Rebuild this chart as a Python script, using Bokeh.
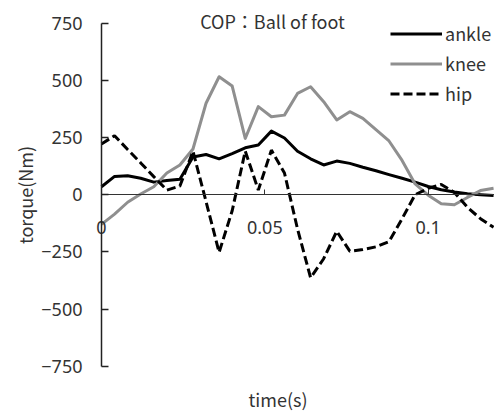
from bokeh.plotting import figure
from bokeh.models import Range1d, FixedTicker, Legend, LegendItem, Label
from bokeh.embed import file_html
from bokeh.resources import INLINE

# ---- data ----
time_s = [0.000, 0.004, 0.008, 0.012, 0.016, 0.020, 0.024, 0.028, 0.032, 0.036,
          0.040, 0.044, 0.048, 0.052, 0.056, 0.060, 0.064, 0.068, 0.072, 0.076,
          0.080, 0.084, 0.088, 0.092, 0.096, 0.100, 0.104, 0.108, 0.112, 0.116, 0.120]
ankle = [35, 80, 83, 72, 55, 62, 68, 165, 176, 157, 180, 205, 217, 278, 248, 190,
         157, 130, 147, 137, 120, 105, 88, 72, 55, 36, 22, 12, 4, 0, -3]
knee = [-130, -85, -33, 3, 35, 95, 130, 200, 400, 516, 475, 246, 385, 341, 348, 443,
        472, 407, 327, 363, 334, 285, 235, 150, 47, -2, -40, -44, -12, 18, 28]
hip = [222, 258, 198, 139, 79, 20, 38, 190, -30, -252, -70, 191, 20, 195, 95, -150,
       -363, -280, -160, -247, -240, -228, -205, -105, 0, 28, 45, 10, -55, -105, -142]

series_names = ["ankle", "knee", "hip"]
x_ticks = [0, 0.05, 0.1]
x_tick_labels = ["0", "0.05", "0.1"]
y_ticks = [-750, -500, -250, 0, 250, 500, 750]
y_tick_labels = ["\u2212750", "\u2212500", "\u2212250", "0", "250", "500", "750"]
title_text = "COP\uff1aBall of foot"
x_label = "time(s)"
y_label = "torque(Nm)"

FONT = "Noto Sans CJK JP"
NUMFONT = "Noto Sans"
TXT = "#333333"
FS = "18px"

W, H = 494, 412
p = figure(width=W, height=H, output_backend="svg", toolbar_location=None,
           x_range=Range1d(-0.030915, 0.12029), y_range=Range1d(-952.5, 849.3),
           min_border=0, min_border_left=0, min_border_right=0,
           min_border_top=0, min_border_bottom=0)
p.grid.visible = False
p.outline_line_color = None
p.background_fill_color = "white"
p.border_fill_color = "white"

# x axis placed at y = 0
xa = p.xaxis[0]
xa.fixed_location = 0
xa.bounds = (0, 0.12029)
xa.ticker = FixedTicker(ticks=x_ticks)
xa.major_label_overrides = dict(zip(x_ticks, x_tick_labels))
xa.major_tick_in = 5
xa.major_tick_out = 0
xa.minor_tick_line_color = None
xa.axis_line_color = "#333333"
xa.axis_line_width = 1.2
xa.major_tick_line_color = "#333333"
xa.major_label_standoff = 26
xa.major_label_text_font = NUMFONT
xa.major_label_text_font_size = FS
xa.major_label_text_color = TXT

# y axis placed at x = 0
ya = p.yaxis[0]
ya.fixed_location = 0
ya.bounds = (-750, 750)
ya.ticker = FixedTicker(ticks=y_ticks)
ya.major_label_overrides = dict(zip(y_ticks, y_tick_labels))
ya.major_tick_in = 7
ya.major_tick_out = 0
ya.minor_tick_line_color = None
ya.axis_line_color = "#222222"
ya.axis_line_width = 1.5
ya.major_tick_line_color = "#222222"
ya.major_tick_line_width = 1.5
ya.major_label_standoff = 19
ya.major_label_text_font = NUMFONT
ya.major_label_text_font_size = FS
ya.major_label_text_color = TXT
ya.axis_label = y_label
ya.axis_label_text_font = FONT
ya.axis_label_text_font_size = FS
ya.axis_label_text_font_style = "normal"
ya.axis_label_text_color = TXT
ya.axis_label_standoff = 0

r_ankle = p.line(time_s, ankle, line_color="black", line_width=3, line_join="round")
r_knee = p.line(time_s, knee, line_color="#8f8f8f", line_width=3, line_join="round")
r_hip = p.line(time_s, hip, line_color="black", line_width=3, line_dash="9 4")

legend = Legend(items=[LegendItem(label=series_names[0], renderers=[r_ankle]),
                       LegendItem(label=series_names[1], renderers=[r_knee]),
                       LegendItem(label=series_names[2], renderers=[r_hip])],
                location=(390, 306), orientation="vertical",
                glyph_width=52, glyph_height=25, label_height=25, spacing=4,
                padding=0, margin=0, label_standoff=3,
                border_line_color=None, background_fill_alpha=0,
                label_text_font=FONT, label_text_font_size=FS,
                label_text_color=TXT)
p.add_layout(legend)

p.add_layout(Label(x=272, y=391.5, x_units="screen", y_units="screen", text=title_text,
                   text_align="center", text_baseline="middle", text_font=FONT,
                   text_font_size=FS, text_color=TXT))
p.add_layout(Label(x=277.5, y=14, x_units="screen", y_units="screen", text=x_label,
                   text_align="center", text_baseline="middle", text_font=FONT,
                   text_font_size=FS, text_color=TXT))

open("out.html", "w").write(file_html(p, INLINE))
